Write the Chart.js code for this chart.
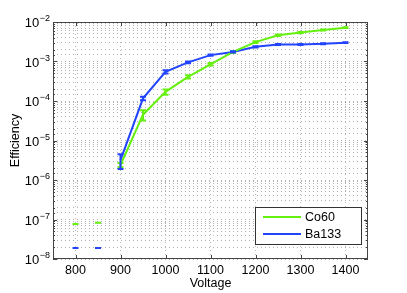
<!DOCTYPE html>
<html>
<head>
<meta charset="utf-8">
<script src="https://cdn.jsdelivr.net/npm/chart.js@4/dist/chart.umd.min.js"></script>
<style>
  html, body { margin: 0; padding: 0; background: #fff; }
  #wrap { width: 407px; height: 293px; }
</style>
</head>
<body>
<div id="wrap"><canvas id="spaceForGraphic"></canvas></div>
<script>
// datos
const voltage = [800, 850, 900, 950, 1000, 1050, 1100, 1150, 1200, 1250, 1300, 1350, 1400];
const co60 = [7.7e-8, 8.3e-8, 2.4e-6, 4.5e-5, 1.7e-4, 4.1e-4, 8.5e-4, 1.75e-3, 3.1e-3, 4.6e-3, 5.4e-3, 6.3e-3, 7.2e-3];
const co60Err = [0, 0, 3e-7, 1.3e-5, 2.5e-5, 4e-5, 6e-5, 1e-4, 1.5e-4, 2e-4, 2e-4, 2e-4, 2e-4];
const ba133 = [1.9e-8, 1.9e-8, 3.2e-6, 1.17e-4, 5.5e-4, 9.5e-4, 1.45e-3, 1.75e-3, 2.35e-3, 2.7e-3, 2.7e-3, 2.8e-3, 3.0e-3];
const ba133Err = [0, 0, 1.3e-6, 1.2e-5, 5e-5, 5e-5, 6e-5, 6e-5, 8e-5, 8e-5, 8e-5, 8e-5, 8e-5];
const xTicks = [800, 900, 1000, 1100, 1200, 1300, 1400];
const seriesNames = ["Co60", "Ba133"];
const seriesColors = ["#66f010", "#2244ff"];

const FONT = "'Liberation Sans', Arial, sans-serif";

function isPow10(v) {
  const l = Math.log10(v);
  return Math.abs(l - Math.round(l)) < 1e-6;
}

// barras de error + marcas de los ejes + leyenda
const extras = {
  id: "extras",
  afterDatasetsDraw(chart) {
    const ctx = chart.ctx;
    const xs = chart.scales.x, ys = chart.scales.y;
    const errs = [co60Err, ba133Err];
    chart.data.datasets.forEach((ds, d) => {
      ctx.save();
      ctx.strokeStyle = seriesColors[d];
      ctx.lineWidth = 2;
      ds.data.forEach((p, i) => {
        const x = xs.getPixelForValue(p.x);
        const yHi = ys.getPixelForValue(p.y + errs[d][i]);
        const yLo = ys.getPixelForValue(p.y - errs[d][i] > 0 ? p.y - errs[d][i] : p.y);
        ctx.beginPath();
        ctx.moveTo(x, yHi); ctx.lineTo(x, yLo);
        ctx.moveTo(x - 3, yHi); ctx.lineTo(x + 3, yHi);
        ctx.moveTo(x - 3, yLo); ctx.lineTo(x + 3, yLo);
        ctx.stroke();
      });
      ctx.restore();
    });
  },
  afterDraw(chart) {
    const ctx = chart.ctx;
    const a = chart.chartArea;
    const xs = chart.scales.x, ys = chart.scales.y;
    ctx.save();
    // caja
    ctx.strokeStyle = "#444";
    ctx.lineWidth = 1;
    ctx.strokeRect(a.left + 0.5, a.top + 0.5, a.right - a.left - 1, a.bottom - a.top - 1);
    // marcas
    ctx.beginPath();
    xTicks.forEach(v => {
      const x = Math.round(xs.getPixelForValue(v)) + 0.5;
      ctx.moveTo(x, a.bottom); ctx.lineTo(x, a.bottom - 4);
      ctx.moveTo(x, a.top); ctx.lineTo(x, a.top + 4);
    });
    ys.ticks.forEach(t => {
      const y = Math.round(ys.getPixelForValue(t.value)) + 0.5;
      const len = isPow10(t.value) ? 4 : 2;
      ctx.moveTo(a.left, y); ctx.lineTo(a.left + len, y);
      ctx.moveTo(a.right, y); ctx.lineTo(a.right - len, y);
    });
    ctx.stroke();
    // etiquetas del eje Y (10^n)
    ctx.fillStyle = "#000";
    ys.ticks.forEach(t => {
      if (!isPow10(t.value)) return;
      const y = ys.getPixelForValue(t.value);
      const e = String(Math.round(Math.log10(t.value))).replace("-", "\u2212");
      ctx.font = "9px " + FONT;
      ctx.textBaseline = "alphabetic";
      ctx.textAlign = "left";
      const ew = ctx.measureText(e).width;
      const ex = a.left - 3 - ew;
      ctx.fillText(e, ex, y - 1);
      ctx.font = "13px " + FONT;
      ctx.textAlign = "right";
      ctx.fillText("10", ex - 0.5, y + 5);
    });
    // leyenda
    const lx = a.right - 113, ly = a.bottom - 52;
    ctx.fillStyle = "#fff";
    ctx.fillRect(lx, ly, 106, 37);
    ctx.strokeStyle = "#333";
    ctx.strokeRect(lx + 0.5, ly + 0.5, 106, 37);
    seriesNames.forEach((name, i) => {
      const y = ly + 10 + i * 17;
      ctx.strokeStyle = seriesColors[i];
      ctx.lineWidth = 2;
      ctx.beginPath();
      ctx.moveTo(lx + 8, y); ctx.lineTo(lx + 46, y);
      ctx.stroke();
      ctx.fillStyle = "#000";
      ctx.font = "12.5px " + FONT;
      ctx.textAlign = "left";
      ctx.textBaseline = "middle";
      ctx.fillText(name, lx + 50, y + 1);
    });
    ctx.restore();
  }
};

const datasets = [co60, ba133].map((vals, d) => ({
  label: seriesNames[d],
  data: voltage.map((v, i) => ({ x: v, y: vals[i] })),
  borderColor: seriesColors[d],
  borderWidth: 2,
  pointRadius: 0,
  tension: 0,
  fill: false,
  segment: {
    // sin linea entre los puntos aislados de 800 y 850
    borderColor: c => (c.p0.parsed.x < 900 ? "transparent" : undefined)
  }
}));

new Chart(document.getElementById("spaceForGraphic"), {
  type: "line",
  data: { datasets: datasets },
  plugins: [extras],
  options: {
    responsive: true,
    maintainAspectRatio: false,
    animation: false,
    layout: { padding: { top: 22, right: 39, left: 0, bottom: 0 } },
    plugins: { legend: { display: false }, tooltip: { enabled: false } },
    scales: {
      x: {
        type: "linear",
        min: 750,
        max: 1450,
        afterBuildTicks: s => { s.ticks = xTicks.map(v => ({ value: v })); },
        afterFit: s => { s.height = 34; },
        ticks: { color: "#000", font: { family: FONT, size: 12.5 }, padding: 4, maxRotation: 0, autoSkip: false, callback: v => String(v) },
        grid: { color: "rgba(0,0,0,0.28)", drawTicks: false, lineWidth: 1 },
        border: { display: false, dash: [1, 3] },
        title: { display: true, text: "Voltage", color: "#000", font: { family: FONT, size: 12.5 }, padding: { top: 0, bottom: 2 } }
      },
      y: {
        type: "logarithmic",
        min: 1e-8,
        max: 1e-2,
        afterFit: s => { s.width = 53; },
        ticks: { display: false, autoSkip: false },
        grid: { color: "rgba(0,0,0,0.3)", drawTicks: false, lineWidth: 1 },
        border: { display: false, dash: [1, 3] },
        title: { display: true, text: "Efficiency", color: "#000", font: { family: FONT, size: 12.5 }, padding: { top: 8, bottom: 0 } }
      }
    }
  }
});
</script>
</body>
</html>
